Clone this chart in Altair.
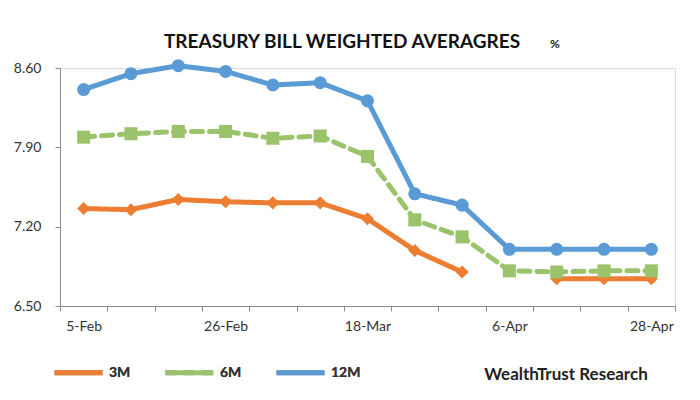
import altair as alt
import pandas as pd

dates = ["5-Feb", "12-Feb", "19-Feb", "26-Feb", "5-Mar", "12-Mar", "18-Mar",
         "25-Mar", "31-Mar", "6-Apr", "14-Apr", "21-Apr", "28-Apr"]
shown_labels = ["5-Feb", "26-Feb", "18-Mar", "6-Apr", "28-Apr"]
m3 = [7.36, 7.35, 7.44, 7.42, 7.41, 7.41, 7.27, 6.99, 6.80, None, 6.74, 6.74, 6.74]
m6 = [7.99, 8.02, 8.04, 8.04, 7.98, 8.00, 7.82, 7.26, 7.11, 6.81, 6.80, 6.81, 6.81]
m12 = [8.41, 8.55, 8.62, 8.57, 8.45, 8.47, 8.31, 7.49, 7.39, 7.00, 7.00, 7.00, 7.00]
series = ["3M", "6M", "12M"]
colors = ["#ED7D31", "#9BC36B", "#5B9BD5"]
y_ticks = [6.50, 7.20, 7.90, 8.60]

rows = []
for name, vals in zip(series, [m3, m6, m12]):
    seg = 0
    for d, v in zip(dates, vals):
        if v is None:
            seg += 1
            continue
        rows.append({"date": d, "series": name, "marker": name, "value": v, "seg": f"{name}-{seg}"})
df = pd.DataFrame(rows)

FONT = "Lato"
x = alt.X("date:N", sort=dates, bandPosition=0.5,
          scale=alt.Scale(type="band", paddingInner=0, paddingOuter=0),
          axis=alt.Axis(title=None, tickBand="extent", labelAngle=0, grid=False,
                        labelExpr="indexof(" + str(shown_labels) + ", datum.label) >= 0 ? datum.label : ''",
                        domainColor="#8c8c8c", tickColor="#8c8c8c", tickSize=5,
                        labelPadding=8, labelFontSize=14, labelColor="#333333", labelFont=FONT))
y = alt.Y("value:Q", scale=alt.Scale(domain=[6.5, 8.6], nice=False, zero=False),
          axis=alt.Axis(title=None, values=y_ticks, format=".2f", grid=False,
                        domainColor="#8c8c8c", tickColor="#8c8c8c", tickSize=5,
                        labelPadding=14, labelFontSize=14, labelColor="#333333", labelFont=FONT))
legend = alt.Legend(title=None, orient="none", direction="horizontal",
                    legendX=-8, legendY=278, columns=3, columnPadding=24,
                    symbolType="stroke", symbolStrokeWidth=5, symbolSize=2300,
                    labelFont=FONT, labelFontSize=14, labelFontWeight="bold",
                    labelColor="#333333", labelOffset=4)
color = alt.Color("series:N", sort=series, title=None,
                  scale=alt.Scale(domain=series, range=colors), legend=legend)
dash = alt.StrokeDash("series:N", sort=series, title=None,
                      scale=alt.Scale(domain=series, range=[[1, 0], [11, 7], [1, 0]]),
                      legend=legend)

lines = alt.Chart(df).mark_line(strokeWidth=5, strokeCap="round").encode(
    x=x, y=y, color=color, strokeDash=dash, detail="seg:N")
points = alt.Chart(df).mark_point(filled=True, opacity=1).encode(
    x=x, y=y,
    color=alt.Color("marker:N", scale=alt.Scale(domain=series, range=colors), legend=None),
    shape=alt.Shape("marker:N", scale=alt.Scale(domain=series, range=["diamond", "square", "circle"]), legend=None),
    size=alt.Size("marker:N", scale=alt.Scale(domain=series, range=[170, 170, 250]), legend=None))

title = alt.Chart(alt.Data(values=[{}])).mark_text(
    text="TREASURY BILL WEIGHTED AVERAGRES", font=FONT, fontSize=19, fontWeight="bold",
    color="#111111").encode(x=alt.value(282), y=alt.value(-26))
pct = alt.Chart(alt.Data(values=[{}])).mark_text(
    text="%", font=FONT, fontSize=12, fontWeight="bold", color="#222222").encode(
    x=alt.value(495), y=alt.value(-24))
credit = alt.Chart(alt.Data(values=[{}])).mark_text(
    text="WealthTrust Research", font=FONT, fontSize=17, fontWeight="bold", color="#222222").encode(
    x=alt.value(506), y=alt.value(307))

chart = alt.layer(lines, points, title, pct, credit).resolve_scale(
    color="independent", shape="independent", size="independent"
).properties(
    width=615, height=238,
    autosize=alt.AutoSizeParams(type="none"),
    padding={"left": 52, "top": 60, "right": 17, "bottom": 86},
).configure_view(stroke=None).configure(background="white")

chart.save("out.html", embed_options={"renderer": "svg", "actions": False})
